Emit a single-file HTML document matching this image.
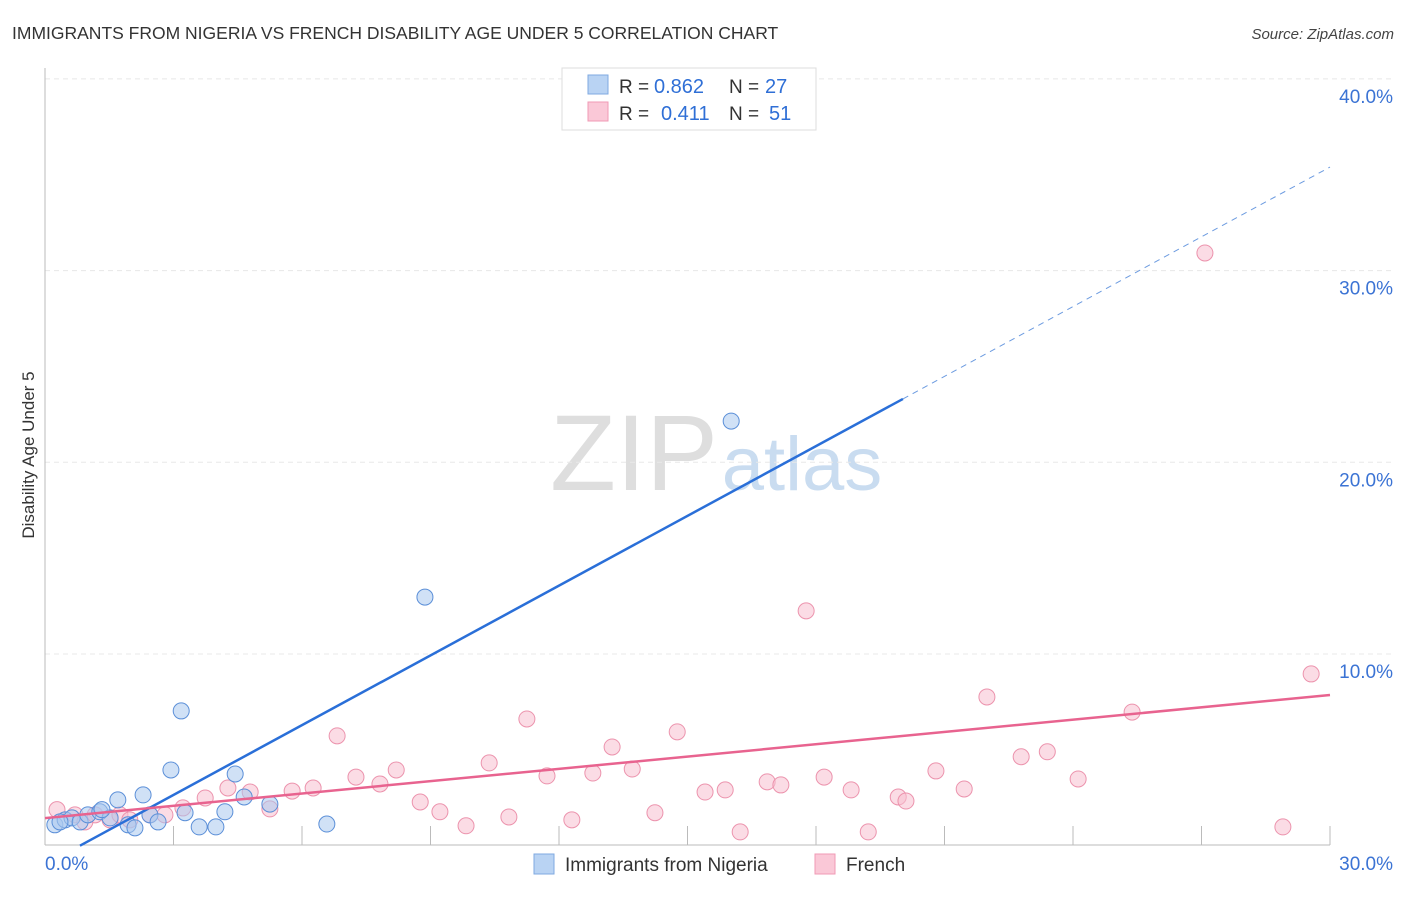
<!DOCTYPE html>
<html><head><meta charset="utf-8"><style>
body{margin:0;background:#fff;font-family:"Liberation Sans",sans-serif}
svg text{font-family:"Liberation Sans",sans-serif}
</style></head><body>
<svg id="chart" width="1406" height="892" xmlns="http://www.w3.org/2000/svg">
<text x="12" y="39" font-size="17.5" fill="#333">IMMIGRANTS FROM NIGERIA VS FRENCH DISABILITY AGE UNDER 5 CORRELATION CHART</text>
<text x="1394" y="39" font-size="15" fill="#444" text-anchor="end" font-style="italic">Source: ZipAtlas.com</text>
<g>
<text x="634" y="490" font-size="108" fill="#dedede" text-anchor="middle" font-family="Liberation Serif">ZIP</text>
<text x="802" y="490" font-size="76" fill="#c9dcf0" text-anchor="middle">atlas</text>
</g>
<g id="grid"></g>
<g id="axes"></g>
<g id="marks"></g>
<text transform="translate(34,455) rotate(-90)" font-size="17" fill="#333" text-anchor="middle">Disability Age Under 5</text>
<g>
<rect x="562" y="68" width="254" height="62" fill="#fff" stroke="#ddd"/>
<rect x="588" y="75" width="20" height="19" fill="#b9d3f3" stroke="#7fa9e0"/>
<rect x="588" y="102" width="20" height="19" fill="#fac8d7" stroke="#f09ab4"/>
<text x="619" y="93" font-size="19" fill="#333">R =</text>
<text x="654" y="93" font-size="20" fill="#2f6fd6">0.862</text>
<text x="729" y="93" font-size="19" fill="#333">N =</text>
<text x="765" y="93" font-size="20" fill="#2f6fd6">27</text>
<text x="619" y="120" font-size="19" fill="#333">R =</text>
<text x="661" y="120" font-size="20" fill="#2f6fd6">0.411</text>
<text x="729" y="120" font-size="19" fill="#333">N =</text>
<text x="769" y="120" font-size="20" fill="#2f6fd6">51</text>
</g>
<g>
<rect x="534" y="854" width="20" height="20" fill="#b9d3f3" stroke="#7fa9e0"/>
<text x="565" y="871" font-size="19" fill="#333">Immigrants from Nigeria</text>
<rect x="815" y="854" width="20" height="20" fill="#fac8d7" stroke="#f09ab4"/>
<text x="846" y="871" font-size="19" fill="#333">French</text>
</g>
</svg>
<script>
const blueX=[0.23,0.47,0.63,0.82,1.0,1.28,1.52,1.70,1.94,2.10,2.29,2.45,2.64,2.94,3.18,3.27,3.60,3.99,4.20,4.44,4.65,5.25,6.58,8.87,16.02,1.33,0.35];
const blueY=[1.09,1.35,1.45,1.24,1.61,1.77,1.45,2.39,1.09,0.93,2.65,1.61,1.24,3.95,7.03,1.72,0.98,0.98,1.77,3.74,2.54,2.17,1.13,12.97,22.15,1.88,1.24];
const pinkX=[0.28,0.70,0.93,1.17,1.52,1.75,1.98,2.45,2.80,3.22,3.74,4.27,4.79,5.25,5.77,6.26,6.82,7.26,7.82,8.20,8.76,9.22,9.83,10.37,10.83,11.25,11.72,12.30,12.79,13.24,13.71,14.24,14.76,15.41,15.88,16.23,16.86,17.18,17.77,18.19,18.82,19.22,19.92,20.10,20.80,21.46,21.99,22.79,23.40,24.12,25.38,27.08,28.90,29.56];
const pinkY=[1.88,1.61,1.24,1.61,1.35,1.61,1.35,1.61,1.61,1.97,2.49,3.01,2.80,1.92,2.85,3.01,5.73,3.58,3.22,3.95,2.28,1.77,1.04,4.32,1.50,6.61,3.64,1.35,3.79,5.15,4.00,1.72,5.94,2.80,2.91,0.72,3.33,3.17,12.25,3.58,2.91,0.72,2.54,2.33,3.90,2.96,7.76,4.64,4.90,3.48,6.97,30.92,0.98,8.96];
const blueFit=[-0.99,1.213];
const pinkFit=[1.44,0.214];
const yTicks=[10,20,30,40];
const xTickLabels=["0.0%","30.0%"];
const NS="http://www.w3.org/2000/svg";
const sx=v=>45+v*1285/30, sy=v=>845.7-v*19.17;
function mk(tag,at,parent){const e=document.createElementNS(NS,tag);for(const k in at)e.setAttribute(k,at[k]);parent.appendChild(e);return e;}
const grid=document.getElementById('grid'),axes=document.getElementById('axes'),marks=document.getElementById('marks');
yTicks.forEach(t=>{
 const l=mk('line',{x1:45,x2:1394,y1:sy(t),y2:sy(t),stroke:'#e8e8e8','stroke-dasharray':'5,4'},grid);
 
 
 const tx=mk('text',{x:1393,y:sy(t)+24,'font-size':19,fill:'#3b73d4','text-anchor':'end'},axes);
 tx.textContent=t.toFixed(1)+'%';
 
 
});
let a=mk('line',{x1:45,x2:45,y1:68,y2:845,stroke:'#bbb'},axes);


a=mk('line',{x1:45,x2:1330,y1:845,y2:845,stroke:'#bbb'},axes);


for(let i=1;i<=10;i++){const t=mk('line',{x1:sx(i*3),x2:sx(i*3),y1:826,y2:845,stroke:'#bbb'},axes);
 
 }
[[0,'start'],[30,'end']].forEach((p,i)=>{const t=mk('text',{x:sx(p[0])+(i?63:0),y:870,'font-size':19,fill:'#3b73d4','text-anchor':p[1]},axes);
 t.textContent=xTickLabels[i];
 
 });
function dots(X,Y,fill,stroke,name){X.forEach((x,i)=>{const c=mk('circle',{cx:sx(x),cy:sy(Y[i]),r:8,fill:fill,'fill-opacity':0.55,stroke:stroke,'stroke-width':1},marks);
 
 });}
dots(pinkX,pinkY,'#f8bfd0','#ec93ad','french-point');
dots(blueX,blueY,'#aac8ef','#5b8fd8','nigeria-point');
const xs=-blueFit[0]/blueFit[1];
let l=mk('line',{x1:sx(xs),y1:sy(0),x2:sx(20.03),y2:sy(blueFit[0]+blueFit[1]*20.03),stroke:'#2a6fd8','stroke-width':2.5},marks);


l=mk('line',{x1:sx(20.03),y1:sy(blueFit[0]+blueFit[1]*20.03),x2:sx(30),y2:sy(blueFit[0]+blueFit[1]*30),stroke:'#6c9be0','stroke-width':1,'stroke-dasharray':'6,5'},marks);


l=mk('line',{x1:sx(0),y1:sy(pinkFit[0]),x2:sx(30),y2:sy(pinkFit[0]+pinkFit[1]*30),stroke:'#e8638f','stroke-width':2.5},marks);


</script>
</body></html>
